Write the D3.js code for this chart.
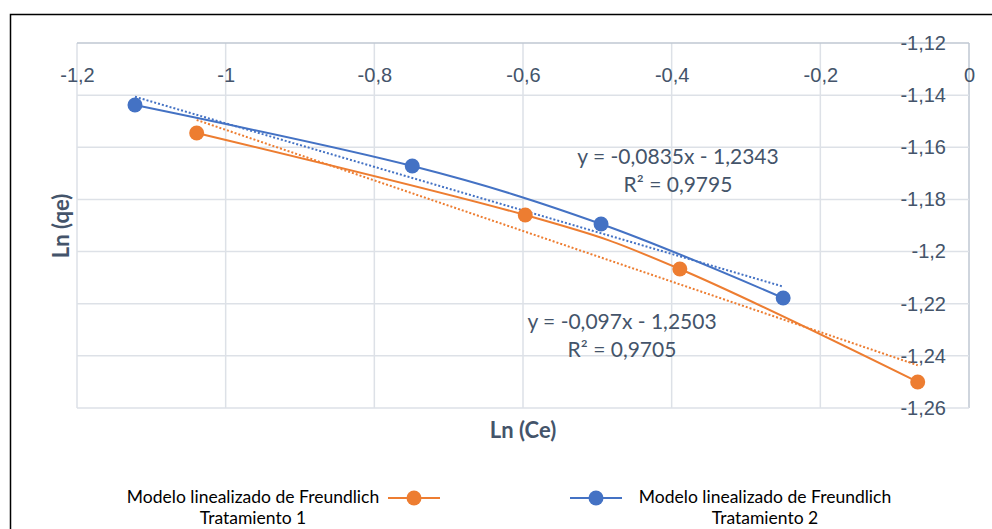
<!DOCTYPE html>
<html>
<head>
<meta charset="utf-8">
<script src="https://cdn.jsdelivr.net/npm/d3@7"></script>
<style>
  body { margin: 0; background: #fff; }
  svg { display: block; font-family: Lato, "Noto Sans", sans-serif; }
  .axis text { fill: #44546a; font-size: 20px; }
</style>
</head>
<body>
<script>
// Data
var lnCe_t1 = [-1.039, -0.597, -0.389, -0.069];
var lnQe_t1 = [-1.1545, -1.186, -1.2067, -1.250];
var lnCe_t2 = [-1.122, -0.749, -0.495, -0.250];
var lnQe_t2 = [-1.1438, -1.1672, -1.1894, -1.2178];

// trend line equations shown on the chart
var trend_t1 = { slope: -0.097, intercept: -1.2503, label: ["y = -0,097x - 1,2503", "R² = 0,9705"] };
var trend_t2 = { slope: -0.0835, intercept: -1.2343, label: ["y = -0,0835x - 1,2343", "R² = 0,9795"] };

var xTicks = [-1.2, -1, -0.8, -0.6, -0.4, -0.2, 0];
var yTicks = [-1.12, -1.14, -1.16, -1.18, -1.2, -1.22, -1.24, -1.26];

var legendNames = ["Modelo linealizado de Freundlich", "Tratamiento 1", "Tratamiento 2"];

var orange = "#ed7d31";
var blue = "#4472c4";

var width = 992, height = 529;

var svg = d3.select("body")
    .append("svg")
    .attr("width", width)
    .attr("height", height);

// outer frame (runs off the right and bottom of the picture)
svg.append("rect")
    .attr("x", 10.5)
    .attr("y", 14.5)
    .attr("width", 1000)
    .attr("height", 600)
    .attr("fill", "#fff")
    .attr("stroke", "#000")
    .attr("stroke-width", 1.5);

var xScale = d3.scaleLinear().domain([-1.2, 0]).range([77, 969]);
var yScale = d3.scaleLinear().domain([-1.12, -1.26]).range([43, 408]);

var locale = d3.formatLocale({ decimal: ",", thousands: ".", grouping: [3], currency: ["", ""], minus: "-" });
var fmt = locale.format("~g");

// gridlines
svg.append("g").selectAll("line")
    .data(xTicks)
    .enter().append("line")
    .attr("x1", d => xScale(d)).attr("x2", d => xScale(d))
    .attr("y1", yScale(-1.12)).attr("y2", yScale(-1.26))
    .attr("stroke", d => d === 0 ? "#bfc7d2" : "#dde1e7")
    .attr("stroke-width", 1.5);

svg.append("g").selectAll("line")
    .data(yTicks)
    .enter().append("line")
    .attr("y1", d => yScale(d)).attr("y2", d => yScale(d))
    .attr("x1", xScale(-1.2)).attr("x2", xScale(0))
    .attr("stroke", d => d === -1.12 ? "#bfc7d2" : "#dde1e7")
    .attr("stroke-width", 1.5);

// x axis labels (axis crosses at the top)
var xAxis = d3.axisBottom(xScale)
    .tickValues(xTicks)
    .tickFormat(fmt)
    .tickSize(0)
    .tickPadding(25);

svg.append("g")
    .attr("class", "axis")
    .attr("transform", "translate(0," + yScale(-1.12) + ")")
    .call(xAxis)
    .call(g => g.select(".domain").remove());

// y axis labels (axis crosses at x = 0)
var yAxis = d3.axisLeft(yScale)
    .tickValues(yTicks)
    .tickFormat(fmt)
    .tickSize(0)
    .tickPadding(23);

svg.append("g")
    .attr("class", "axis")
    .attr("transform", "translate(" + xScale(0) + ",0)")
    .call(yAxis)
    .call(g => g.select(".domain").remove());

// axis titles
svg.append("text")
    .attr("x", 523)
    .attr("y", 438)
    .attr("text-anchor", "middle")
    .attr("font-size", 22)
    .attr("font-weight", "bold")
    .attr("fill", "#44546a")
    .text("Ln (Ce)");

svg.append("text")
    .attr("transform", "translate(69,226) rotate(-90)")
    .attr("text-anchor", "middle")
    .attr("font-size", 22)
    .attr("font-weight", "bold")
    .attr("fill", "#44546a")
    .text("Ln (qe)");

// trend lines (dotted)
function drawTrend(xs, trend, color) {
    var ext = d3.extent(xs);
    var pts = ext.map(x => [x, trend.slope * x + trend.intercept]);
    svg.append("line")
        .attr("x1", xScale(pts[0][0])).attr("y1", yScale(pts[0][1]))
        .attr("x2", xScale(pts[1][0])).attr("y2", yScale(pts[1][1]))
        .attr("stroke", color)
        .attr("stroke-width", 2)
        .attr("stroke-dasharray", "2,2");
}
drawTrend(lnCe_t1, trend_t1, orange);
drawTrend(lnCe_t2, trend_t2, blue);

// smoothed series lines
var line = d3.line()
    .x(d => xScale(d[0]))
    .y(d => yScale(d[1]))
    .curve(d3.curveCatmullRom.alpha(0));

function drawSeries(xs, ys, color) {
    var pts = d3.zip(xs, ys);
    svg.append("path")
        .datum(pts)
        .attr("d", line)
        .attr("fill", "none")
        .attr("stroke", color)
        .attr("stroke-width", 2);
    svg.append("g").selectAll("circle")
        .data(pts)
        .enter().append("circle")
        .attr("cx", d => xScale(d[0]))
        .attr("cy", d => yScale(d[1]))
        .attr("r", 7.5)
        .attr("fill", color);
}
drawSeries(lnCe_t1, lnQe_t1, orange);
drawSeries(lnCe_t2, lnQe_t2, blue);

// equation labels
function drawLabel(lines, cx, cy) {
    svg.append("g").selectAll("text")
        .data(lines)
        .enter().append("text")
        .attr("x", cx)
        .attr("y", (d, i) => cy + i * 28)
        .attr("text-anchor", "middle")
        .attr("font-size", 21)
        .attr("fill", "#44546a")
        .text(d => d);
}
drawLabel(trend_t2.label, 678, 164);
drawLabel(trend_t1.label, 622, 329);

// legend
var legend = svg.append("g").attr("font-size", 17.5).attr("fill", "#000");

function legendMarker(cx, color) {
    legend.append("line")
        .attr("x1", cx - 26).attr("x2", cx + 26)
        .attr("y1", 498).attr("y2", 498)
        .attr("stroke", color).attr("stroke-width", 2);
    legend.append("circle")
        .attr("cx", cx).attr("cy", 498).attr("r", 7.5)
        .attr("fill", color);
}
legendMarker(414, orange);
legendMarker(596, blue);

legend.append("text").attr("x", 253).attr("y", 503).attr("text-anchor", "middle").text(legendNames[0]);
legend.append("text").attr("x", 253).attr("y", 524).attr("text-anchor", "middle").text(legendNames[1]);
legend.append("text").attr("x", 765).attr("y", 503).attr("text-anchor", "middle").text(legendNames[0]);
legend.append("text").attr("x", 765).attr("y", 524).attr("text-anchor", "middle").text(legendNames[2]);
</script>
</body>
</html>
